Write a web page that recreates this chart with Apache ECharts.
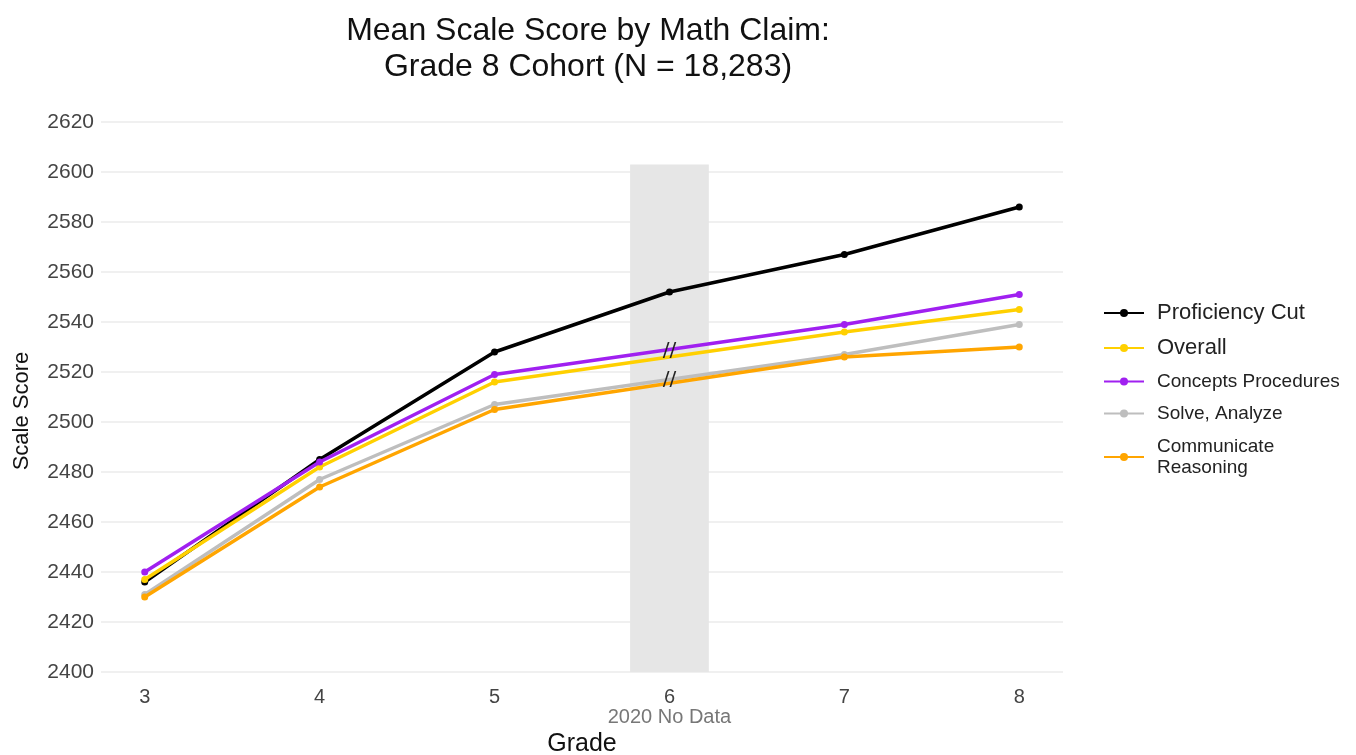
<!DOCTYPE html>
<html>
<head>
<meta charset="utf-8">
<script src="https://cdn.jsdelivr.net/npm/echarts@6/dist/echarts.min.js"></script>
<style>
  html, body { margin: 0; padding: 0; background: #fff; }
  #chart { width: 1356px; height: 755px; }
</style>
</head>
<body>
<div id="chart"></div>
<script>
// grades on the x axis
const grades = [3, 4, 5, 6, 7, 8]
// mean scale scores (grade 6 = 2020, no data for the claims)
const proficiencyCut = [2436, 2485, 2528, 2552, 2567, 2586]
const overall = [2437, 2482, 2516, null, 2536, 2545]
const conceptsProcedures = [2440, 2484, 2519, null, 2539, 2551]
const solveAnalyze = [2431, 2477, 2507, null, 2527, 2539]
const communicateReasoning = [2430, 2474, 2505, null, 2526, 2530]
// y axis ticks
const yTicks = [2400, 2420, 2440, 2460, 2480, 2500, 2520, 2540, 2560, 2580, 2600, 2620]
// shaded "no data" band: x from, x to, top
const noDataBand = [5.775, 6.225, 2603]

const font = 'Liberation Sans, Arial, sans-serif'

const chart = echarts.init(document.getElementById('chart'))

const makeSeries = (name, values, color, z) => ({
  name: name,
  type: 'line',
  data: grades.map((g, i) => [g, values[i]]),
  connectNulls: true,
  symbol: 'circle',
  symbolSize: 7,
  showSymbol: true,
  z: z,
  lineStyle: { color: color, width: 3.5 },
  itemStyle: { color: color },
  emphasis: { disabled: true }
})

const seriesArrs = [
  makeSeries('Proficiency Cut', proficiencyCut, '#000000', 3),
  makeSeries('Overall', overall, '#ffd000', 4),
  makeSeries('Concepts Procedures', conceptsProcedures, '#a020f0', 5),
  makeSeries('Solve, Analyze', solveAnalyze, '#bebebe', 6),
  makeSeries('Communicate\nReasoning', communicateReasoning, '#ffa500', 7)
]

// gray band behind grade 6
seriesArrs[0].markArea = {
  silent: true,
  itemStyle: { color: '#e6e6e6' },
  data: [[{ coord: [noDataBand[0], 2400] }, { coord: [noDataBand[1], noDataBand[2]] }]]
}

// "//" break marks at grade 6
const breakMark = (y) => ({
  coord: [6, y],
  symbol: 'circle',
  symbolSize: 1,
  itemStyle: { color: 'rgba(0,0,0,0)' },
  label: {
    show: true,
    position: 'inside',
    formatter: '//',
    fontFamily: 'DejaVu Sans',
    fontSize: 20,
    color: '#222'
  }
})
seriesArrs[2].markPoint = {
  silent: true,
  z: 10,
  data: [breakMark(2528.5)]
}
seriesArrs[4].markPoint = {
  silent: true,
  z: 10,
  data: [breakMark(2517)]
}

const option = {
  animation: false,
  backgroundColor: '#fff',
  title: {
    text: 'Mean Scale Score by Math Claim:\nGrade 8 Cohort (N = 18,283)',
    left: 583,
    textAlign: 'center',
    top: 8,
    textStyle: {
      fontFamily: font,
      fontSize: 32,
      fontWeight: 'normal',
      color: '#111',
      lineHeight: 36
    }
  },
  grid: {
    left: 101,
    right: 293,
    top: 122,
    bottom: 83,
    outerBoundsMode: 'none'
  },
  legend: {
    orient: 'vertical',
    left: 1098,
    top: 297,
    itemWidth: 40,
    itemHeight: 10,
    itemGap: 13,
    textStyle: { fontFamily: font, color: '#222', fontSize: 19, padding: [0, 0, 0, 8] },
    data: [
      { name: 'Proficiency Cut', textStyle: { fontSize: 22 } },
      { name: 'Overall', textStyle: { fontSize: 22 } },
      { name: 'Concepts Procedures', textStyle: { fontSize: 19 } },
      { name: 'Solve, Analyze', textStyle: { fontSize: 19 } },
      { name: 'Communicate\nReasoning', textStyle: { fontSize: 19, lineHeight: 21 } }
    ]
  },
  xAxis: {
    type: 'value',
    min: 2.75,
    max: 8.25,
    name: 'Grade',
    nameLocation: 'middle',
    nameGap: 58,
    nameTextStyle: { fontFamily: font, fontSize: 25, color: '#111' },
    axisLine: { show: false },
    axisTick: { show: false },
    splitLine: { show: false },
    axisLabel: {
      customValues: grades,
      margin: 15,
      fontFamily: font,
      fontSize: 20,
      color: '#444',
      formatter: (v) => v === 6 ? '{a|6}\n{b|2020 No Data}' : String(v),
      rich: {
        a: { fontFamily: font, fontSize: 20, color: '#444', lineHeight: 20 },
        b: { fontFamily: font, fontSize: 20, color: '#777', lineHeight: 20 }
      }
    }
  },
  yAxis: {
    type: 'value',
    min: yTicks[0],
    max: yTicks[yTicks.length - 1],
    interval: 20,
    name: 'Scale Score',
    nameLocation: 'middle',
    nameGap: 68,
    nameTextStyle: { fontFamily: font, fontSize: 22, color: '#111', padding: [0, 28, 0, 0] },
    axisLine: { show: false },
    axisTick: { show: false },
    axisLabel: {
      fontFamily: font,
      fontSize: 21,
      color: '#444',
      margin: 7,
      formatter: (v) => String(v)
    },
    splitLine: { lineStyle: { color: '#ebebeb', width: 1.5 } }
  },
  series: seriesArrs
}

chart.setOption(option)
</script>
</body>
</html>
